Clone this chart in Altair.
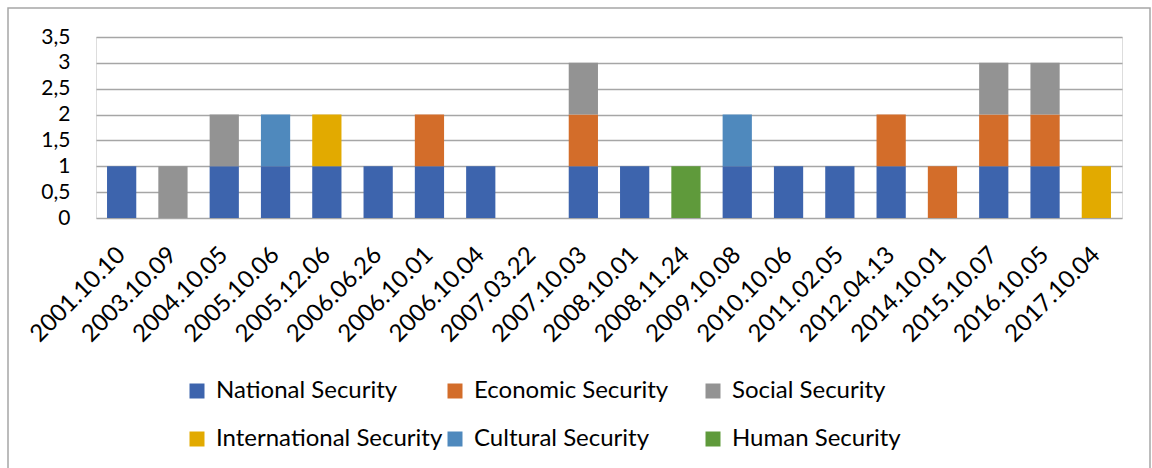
import altair as alt
import pandas as pd

categories = ["2001.10.10", "2003.10.09", "2004.10.05", "2005.10.06", "2005.12.06",
              "2006.06.26", "2006.10.01", "2006.10.04", "2007.03.22", "2007.10.03",
              "2008.10.01", "2008.11.24", "2009.10.08", "2010.10.06", "2011.02.05",
              "2012.04.13", "2014.10.01", "2015.10.07", "2016.10.05", "2017.10.04"]

series_names = ["National Security", "Economic Security", "Social Security",
                "International Security", "Cultural Security", "Human Security"]

national      = [1, 0, 1, 1, 1, 1, 1, 1, 0, 1, 1, 0, 1, 1, 1, 1, 0, 1, 1, 0]
economic      = [0, 0, 0, 0, 0, 0, 1, 0, 0, 1, 0, 0, 0, 0, 0, 1, 1, 1, 1, 0]
social        = [0, 1, 1, 0, 0, 0, 0, 0, 0, 1, 0, 0, 0, 0, 0, 0, 0, 1, 1, 0]
international = [0, 0, 0, 0, 1, 0, 0, 0, 0, 0, 0, 0, 0, 0, 0, 0, 0, 0, 0, 1]
cultural      = [0, 0, 0, 1, 0, 0, 0, 0, 0, 0, 0, 0, 1, 0, 0, 0, 0, 0, 0, 0]
human         = [0, 0, 0, 0, 0, 0, 0, 0, 0, 0, 0, 1, 0, 0, 0, 0, 0, 0, 0, 0]

colors = ["#3d64ad", "#d36d2a", "#939393", "#e2aa00", "#4f89bd", "#5f9a3b"]

all_values = [national, economic, social, international, cultural, human]
rows = []
for si, (name, vals) in enumerate(zip(series_names, all_values)):
    for c, v in zip(categories, vals):
        if v:
            rows.append({"date": c, "series": name, "value": v, "order": si})
df = pd.DataFrame(rows)

FONT = "Lato"

bars = alt.Chart(df).mark_bar().encode(
    x=alt.X("date:N", sort=categories,
            scale=alt.Scale(domain=categories, paddingInner=0.43, paddingOuter=0.215),
            axis=alt.Axis(title=None, labelAngle=-45, labelAlign="right", labelBaseline="middle",
                          labelFontSize=24, labelFont=FONT, labelColor="#000000",
                          labelPadding=33, ticks=False, domain=False, grid=False)),
    y=alt.Y("value:Q", stack="zero",
            scale=alt.Scale(domain=[0, 3.5], nice=False),
            axis=alt.Axis(title=None, values=[0, 0.5, 1, 1.5, 2, 2.5, 3, 3.5],
                          labelExpr="replace(format(datum.value, ''), '.', ',')",
                          labelFontSize=21, labelFont=FONT, labelColor="#000000",
                          labelPadding=26, ticks=False, domain=False,
                          grid=True, gridColor="#a6a6a6", gridWidth=1.5)),
    color=alt.Color("series:N",
                    scale=alt.Scale(domain=series_names, range=colors),
                    legend=alt.Legend(title=None, orient="none", legendX=89, legendY=342,
                                      direction="horizontal", gridAlign="all",
                                      columns=3, symbolType="square", symbolSize=225,
                                      symbolStrokeWidth=0, labelFontSize=24, labelFont=FONT,
                                      labelColor="#000000", rowPadding=24, columnPadding=0,
                                      labelLimit=400, labelOffset=7)),
    order=alt.Order("order:Q", sort="ascending"),
)

frame = alt.Chart(pd.DataFrame({"a": [0]})).mark_rect(
    fill=None, stroke="#a6a6a6", strokeWidth=1.5, clip=False
).encode(
    x=alt.value(-88), x2=alt.value(1054), y=alt.value(-29), y2=alt.value(440)
)

chart = alt.layer(frame, bars).properties(
    width=1026, height=181,
    autosize=alt.AutoSizeParams(type="none"),
    padding={"left": 96, "top": 37, "right": 30, "bottom": 250},
).configure_view(stroke=None).configure(background="white")

chart.save("out.html", embed_options={"renderer": "svg", "actions": False})
